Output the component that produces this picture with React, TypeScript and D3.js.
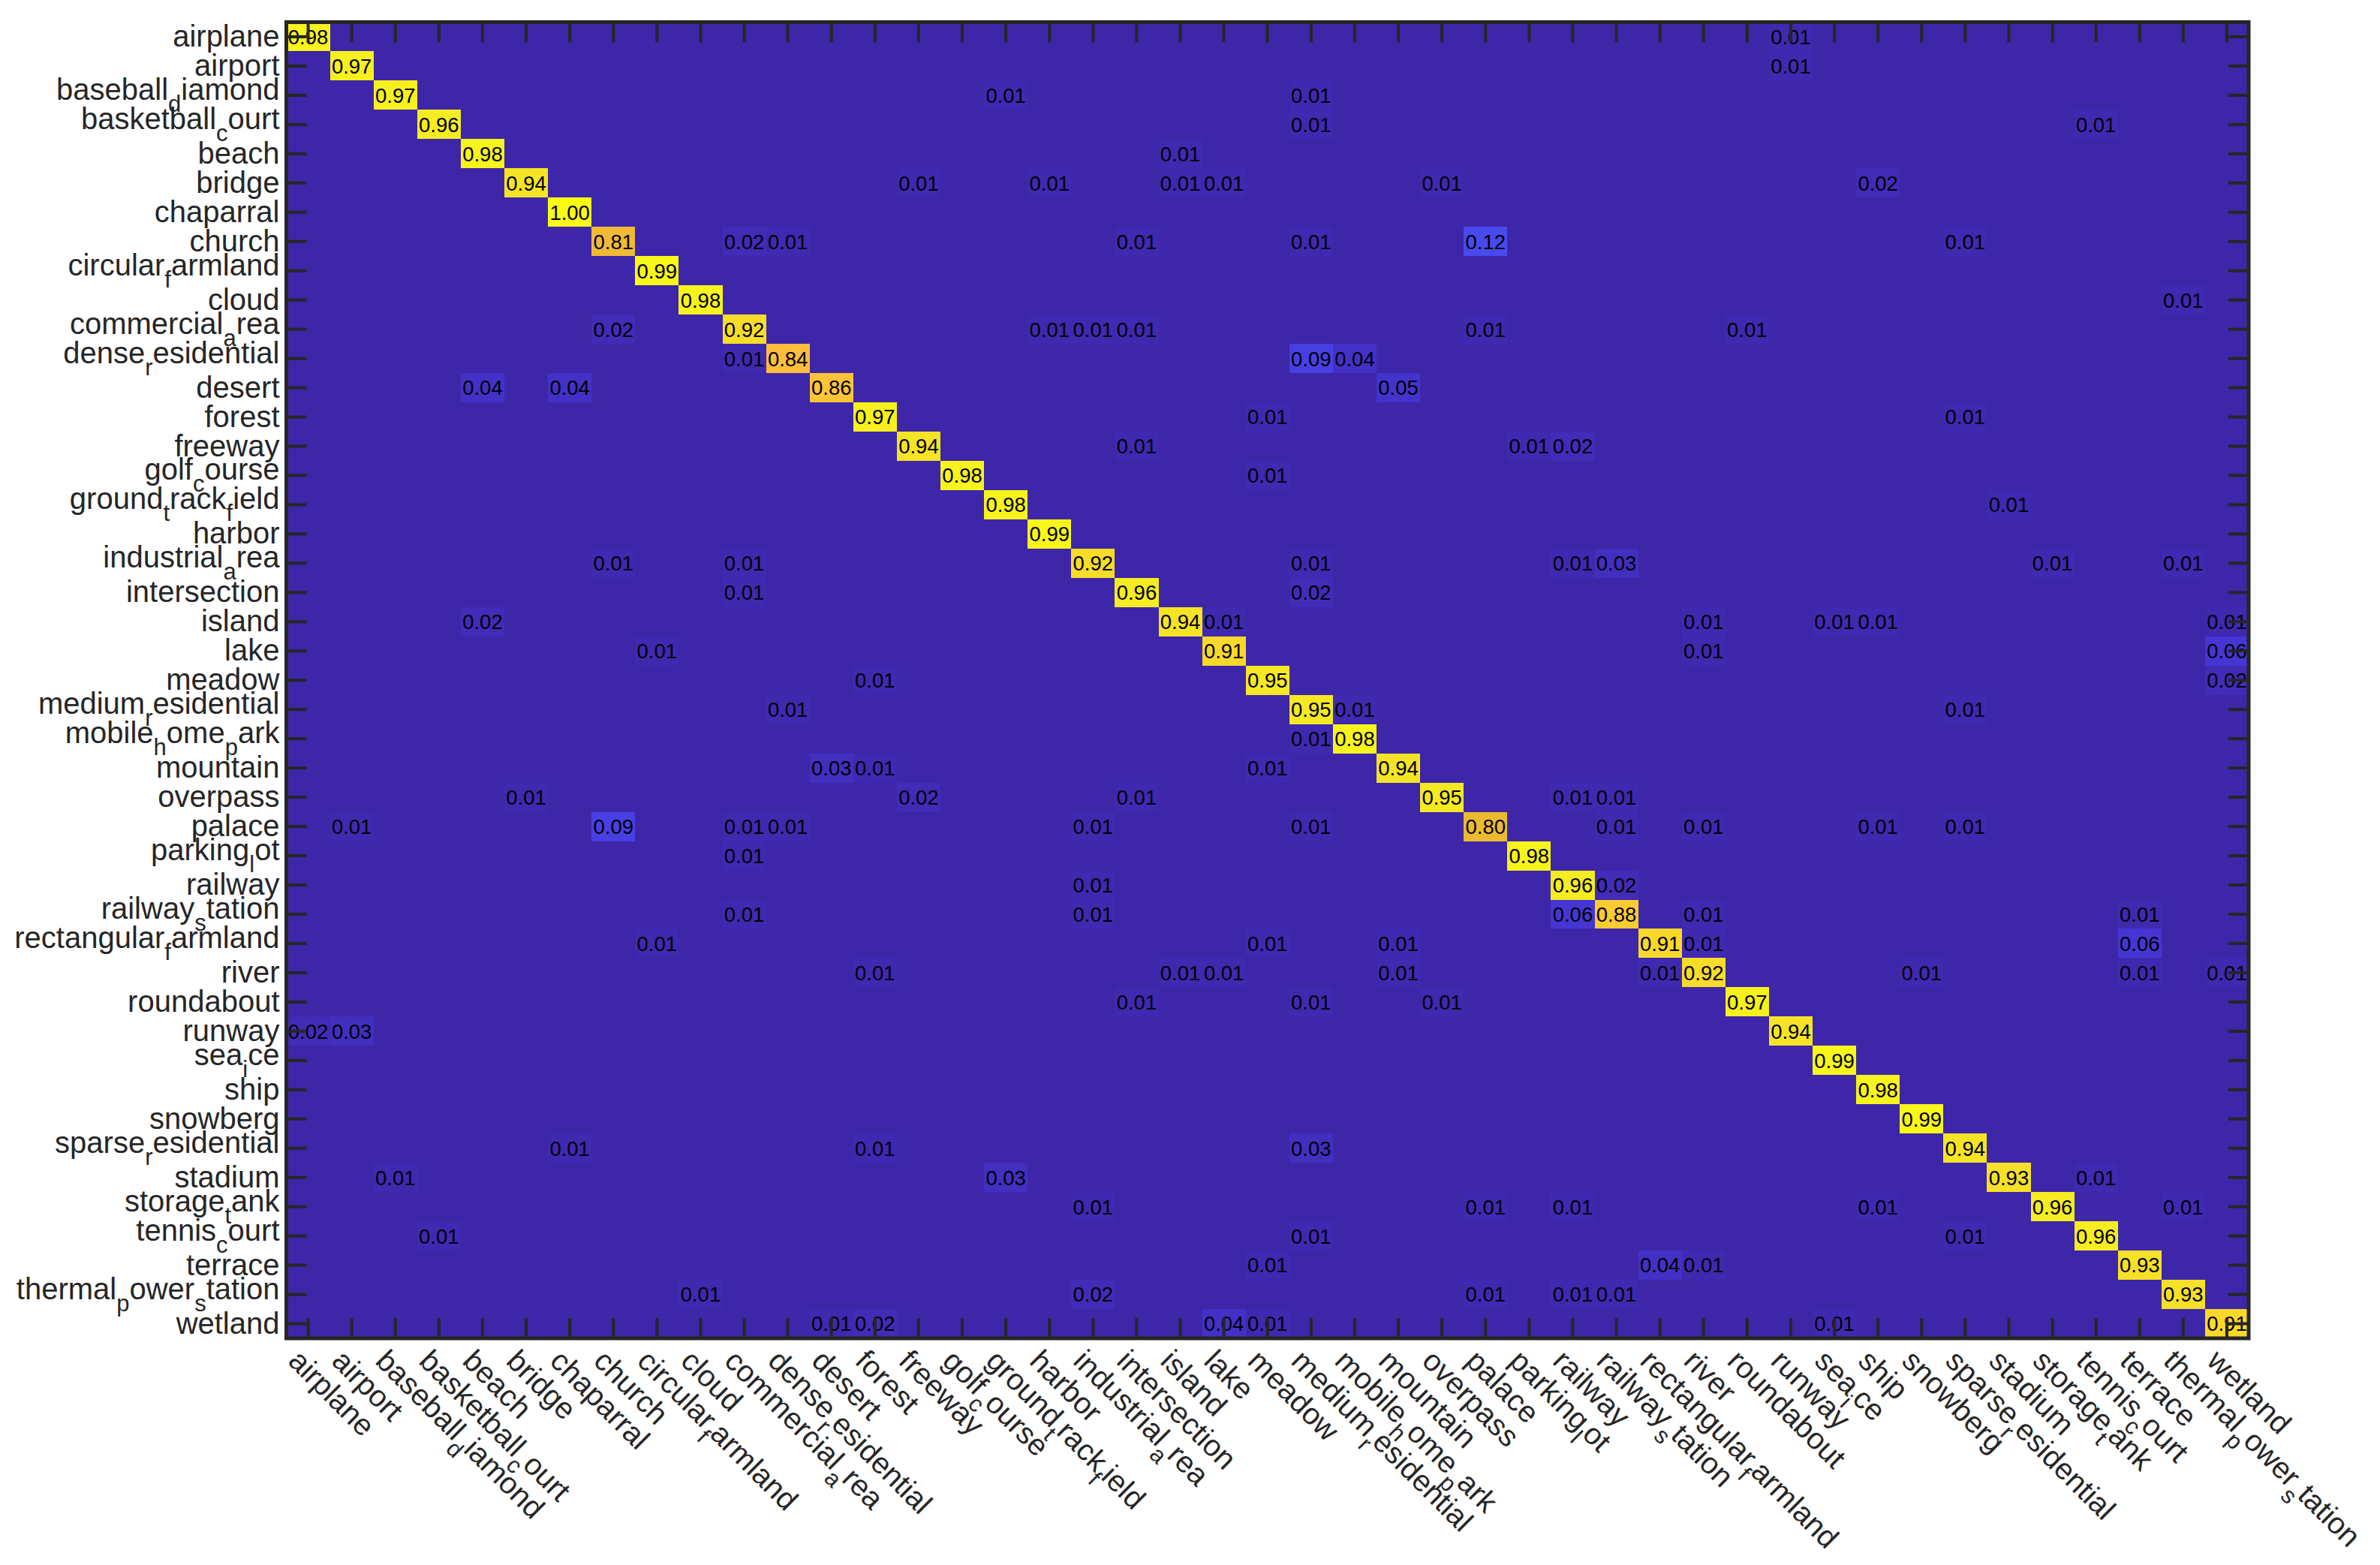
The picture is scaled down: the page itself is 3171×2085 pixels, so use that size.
import React, { useEffect, useRef } from 'react';
import * as d3 from 'd3';

// class names (underscore -> next char rendered as subscript, like MATLAB TeX)
const classes = [
  'airplane', 'airport', 'baseball_diamond', 'basketball_court', 'beach', 'bridge',
  'chaparral', 'church', 'circular_farmland', 'cloud', 'commercial_area',
  'dense_residential', 'desert', 'forest', 'freeway', 'golf_course',
  'ground_track_field', 'harbor', 'industrial_area', 'intersection', 'island', 'lake',
  'meadow', 'medium_residential', 'mobile_home_park', 'mountain', 'overpass', 'palace',
  'parking_lot', 'railway', 'railway_station', 'rectangular_farmland', 'river',
  'roundabout', 'runway', 'sea_ice', 'ship', 'snowberg', 'sparse_residential',
  'stadium', 'storage_tank', 'tennis_court', 'terrace', 'thermal_power_station', 'wetland',
];

// per-class accuracy (diagonal)
const diagonal = [
  0.98, 0.97, 0.97, 0.96, 0.98, 0.94, 1.0, 0.81, 0.99, 0.98, 0.92, 0.84, 0.86, 0.97, 0.94,
  0.98, 0.98, 0.99, 0.92, 0.96, 0.94, 0.91, 0.95, 0.95, 0.98, 0.94, 0.95, 0.8, 0.98, 0.96,
  0.88, 0.91, 0.92, 0.97, 0.94, 0.99, 0.98, 0.99, 0.94, 0.93, 0.96, 0.96, 0.93, 0.93, 0.91,
];

// off-diagonal confusions: [true row, predicted col, value]
const confusions: [number, number, number][] = [
  [0, 34, 0.01],
  [1, 34, 0.01],
  [2, 16, 0.01], [2, 23, 0.01],
  [3, 23, 0.01], [3, 41, 0.01],
  [4, 20, 0.01],
  [5, 14, 0.01], [5, 17, 0.01], [5, 20, 0.01], [5, 21, 0.01], [5, 26, 0.01], [5, 36, 0.02],
  [7, 10, 0.02], [7, 11, 0.01], [7, 19, 0.01], [7, 23, 0.01], [7, 27, 0.12], [7, 38, 0.01],
  [9, 43, 0.01],
  [10, 7, 0.02], [10, 17, 0.01], [10, 18, 0.01], [10, 19, 0.01], [10, 27, 0.01], [10, 33, 0.01],
  [11, 10, 0.01], [11, 23, 0.09], [11, 24, 0.04],
  [12, 4, 0.04], [12, 6, 0.04], [12, 25, 0.05],
  [13, 22, 0.01], [13, 38, 0.01],
  [14, 19, 0.01], [14, 28, 0.01], [14, 29, 0.02],
  [15, 22, 0.01],
  [16, 39, 0.01],
  [18, 7, 0.01], [18, 10, 0.01], [18, 23, 0.01], [18, 29, 0.01], [18, 30, 0.03], [18, 40, 0.01], [18, 43, 0.01],
  [19, 10, 0.01], [19, 23, 0.02],
  [20, 4, 0.02], [20, 21, 0.01], [20, 32, 0.01], [20, 35, 0.01], [20, 36, 0.01], [20, 44, 0.01],
  [21, 8, 0.01], [21, 32, 0.01], [21, 44, 0.06],
  [22, 13, 0.01], [22, 44, 0.02],
  [23, 11, 0.01], [23, 24, 0.01], [23, 38, 0.01],
  [24, 23, 0.01],
  [25, 12, 0.03], [25, 13, 0.01], [25, 22, 0.01],
  [26, 5, 0.01], [26, 14, 0.02], [26, 19, 0.01], [26, 29, 0.01], [26, 30, 0.01],
  [27, 1, 0.01], [27, 7, 0.09], [27, 10, 0.01], [27, 11, 0.01], [27, 18, 0.01], [27, 23, 0.01],
  [27, 30, 0.01], [27, 32, 0.01], [27, 36, 0.01], [27, 38, 0.01],
  [28, 10, 0.01],
  [29, 18, 0.01], [29, 30, 0.02],
  [30, 10, 0.01], [30, 18, 0.01], [30, 29, 0.06], [30, 32, 0.01], [30, 42, 0.01],
  [31, 8, 0.01], [31, 22, 0.01], [31, 25, 0.01], [31, 32, 0.01], [31, 42, 0.06],
  [32, 13, 0.01], [32, 20, 0.01], [32, 21, 0.01], [32, 25, 0.01], [32, 31, 0.01], [32, 37, 0.01],
  [32, 42, 0.01], [32, 44, 0.01],
  [33, 19, 0.01], [33, 23, 0.01], [33, 26, 0.01],
  [34, 0, 0.02], [34, 1, 0.03],
  [38, 6, 0.01], [38, 13, 0.01], [38, 23, 0.03],
  [39, 2, 0.01], [39, 16, 0.03], [39, 41, 0.01],
  [40, 18, 0.01], [40, 27, 0.01], [40, 29, 0.01], [40, 36, 0.01], [40, 43, 0.01],
  [41, 3, 0.01], [41, 23, 0.01], [41, 38, 0.01],
  [42, 22, 0.01], [42, 31, 0.04], [42, 32, 0.01],
  [43, 9, 0.01], [43, 18, 0.02], [43, 27, 0.01], [43, 29, 0.01], [43, 30, 0.01],
  [44, 12, 0.01], [44, 13, 0.02], [44, 21, 0.04], [44, 22, 0.01], [44, 35, 0.01],
];

// MATLAB parula colormap (64 entries)
const parula = [
  [0.2422, 0.1504, 0.6603], [0.2504, 0.165, 0.7076], [0.2578, 0.1818, 0.7511], [0.2647, 0.1978, 0.7952],
  [0.2706, 0.2147, 0.8364], [0.2751, 0.2342, 0.871], [0.2783, 0.2559, 0.8991], [0.2803, 0.2782, 0.9221],
  [0.2813, 0.3006, 0.9409], [0.281, 0.3228, 0.9579], [0.2795, 0.3447, 0.9717], [0.276, 0.3667, 0.9829],
  [0.2699, 0.3892, 0.9906], [0.2602, 0.4123, 0.9952], [0.244, 0.4358, 0.9988], [0.2206, 0.4603, 0.9973],
  [0.1963, 0.4847, 0.9892], [0.1834, 0.5074, 0.9798], [0.1786, 0.5289, 0.9682], [0.1764, 0.5499, 0.952],
  [0.1687, 0.5703, 0.9359], [0.154, 0.5902, 0.9218], [0.146, 0.6091, 0.9079], [0.138, 0.6276, 0.8973],
  [0.1248, 0.6459, 0.8883], [0.1113, 0.6635, 0.8763], [0.0952, 0.6798, 0.8598], [0.0689, 0.6948, 0.8394],
  [0.0297, 0.7082, 0.8163], [0.0036, 0.7203, 0.7917], [0.0067, 0.7312, 0.766], [0.0433, 0.7411, 0.7394],
  [0.0964, 0.75, 0.712], [0.1408, 0.7584, 0.6842], [0.1717, 0.767, 0.6554], [0.1938, 0.7758, 0.6251],
  [0.2161, 0.7843, 0.5923], [0.247, 0.7918, 0.5567], [0.2906, 0.7973, 0.5188], [0.3406, 0.8008, 0.4789],
  [0.3909, 0.8029, 0.4354], [0.4456, 0.8024, 0.3909], [0.5044, 0.7993, 0.348], [0.5616, 0.7942, 0.3045],
  [0.6174, 0.7876, 0.2612], [0.672, 0.7793, 0.2227], [0.7242, 0.7698, 0.191], [0.7738, 0.7598, 0.1646],
  [0.8203, 0.7498, 0.1535], [0.8634, 0.7406, 0.1596], [0.9035, 0.733, 0.1774], [0.9393, 0.7288, 0.21],
  [0.9728, 0.7298, 0.2394], [0.9956, 0.7434, 0.2371], [0.997, 0.7659, 0.2199], [0.9952, 0.7893, 0.2028],
  [0.9892, 0.8136, 0.1885], [0.9786, 0.8386, 0.1766], [0.9676, 0.8639, 0.1643], [0.961, 0.889, 0.1537],
  [0.9597, 0.9135, 0.1423], [0.9628, 0.9373, 0.1265], [0.9691, 0.9606, 0.1064], [0.9769, 0.9839, 0.0805],
];

const W = 3171;
const H = 2085;
const FONT = '"Liberation Sans", Arial, Helvetica, sans-serif';
const AXIS = '#262626';

const App = () => {
  const ref = useRef<SVGSVGElement>(null);

  useEffect(() => {
    const svg = d3.select(ref.current);
    svg.selectAll('*').remove();

    const margin = { top: 29.5, right: W - 2996, bottom: H - 1783, left: 381.5 };
    const n = classes.length;

    const matrix = classes.map((_, i) => classes.map((__, j) => (i === j ? diagonal[i] : 0)));
    confusions.forEach(([r, c, v]) => { matrix[r][c] = v; });
    const cells = matrix.flatMap((row, i) => row.map((v, j) => ({ i, j, v })));

    const x = d3.scaleBand<number>().domain(d3.range(n)).range([margin.left, W - margin.right]);
    const y = d3.scaleBand<number>().domain(d3.range(n)).range([margin.top, H - margin.bottom]);

    const vmax = d3.max(cells, d => d.v) as number;
    const color = d3.scaleLinear<string>()
      .domain(parula.map((_, k) => (k / (parula.length - 1)) * vmax))
      .range(parula.map(c => d3.rgb(c[0] * 255, c[1] * 255, c[2] * 255).toString()))
      .clamp(true);

    const x0 = margin.left, x1 = W - margin.right, y0 = margin.top, y1 = H - margin.bottom;

    // zero-valued background, then the non-zero cells on top
    svg.append('rect')
      .attr('x', x0).attr('y', y0)
      .attr('width', x1 - x0).attr('height', y1 - y0)
      .attr('fill', color(0));

    const nz = cells.filter(d => d.v > 0);
    svg.append('g')
      .attr('shape-rendering', 'crispEdges')
      .selectAll('rect')
      .data(nz)
      .join('rect')
      .attr('x', d => x(d.j)!)
      .attr('y', d => y(d.i)!)
      .attr('width', x.bandwidth())
      .attr('height', y.bandwidth())
      .attr('fill', d => color(d.v));

    // value labels for non-zero cells
    svg.append('g')
      .selectAll('text')
      .data(nz)
      .join('text')
      .attr('x', d => x(d.j)! + x.bandwidth() / 2)
      .attr('y', d => y(d.i)! + y.bandwidth() / 2)
      .attr('dy', '0.36em')
      .attr('text-anchor', 'middle')
      .attr('font-family', FONT)
      .attr('font-size', 27.5)
      .attr('fill', '#000')
      .text(d => d3.format('.2f')(d.v));

    const SUB_SIZE = 31;
    const SUB_SHIFT = 16;
    const writeLabel = (t: any, name: string) => {
      const parts = name.split('_');
      t.append('tspan').text(parts[0]);
      parts.slice(1).forEach(p => {
        t.append('tspan').attr('font-size', SUB_SIZE).attr('dy', SUB_SHIFT).text(p[0]);
        t.append('tspan').attr('dy', -SUB_SHIFT).text(p.slice(1));
      });
    };

    // y tick labels
    const yl = svg.append('g')
      .attr('font-family', FONT)
      .attr('font-size', 40)
      .attr('fill', AXIS);
    classes.forEach((name, i) => {
      const t = yl.append('text')
        .attr('x', margin.left - 9)
        .attr('y', y(i)! + y.bandwidth() / 2 + (name.includes('_') ? 6 : 13))
        .attr('text-anchor', 'end');
      writeLabel(t, name);
    });

    // x tick labels, rotated
    const xl = svg.append('g')
      .attr('font-family', FONT)
      .attr('font-size', 40)
      .attr('fill', AXIS);
    classes.forEach((name, j) => {
      const t = xl.append('text')
        .attr('transform', `translate(${x(j)! + x.bandwidth() / 2 - 8},${H - margin.bottom + 12}) rotate(45)`)
        .attr('dy', '0.72em')
        .attr('text-anchor', 'start');
      writeLabel(t, name);
    });

    // ticks and box on top
    const TICK = 27;
    const ax = svg.append('g').attr('stroke', AXIS).attr('stroke-width', 4).attr('fill', 'none');
    d3.range(n).forEach(k => {
      const cx = x(k)! + x.bandwidth() / 2;
      const cy = y(k)! + y.bandwidth() / 2;
      ax.append('line').attr('x1', cx).attr('x2', cx).attr('y1', y1).attr('y2', y1 - TICK);
      ax.append('line').attr('x1', cx).attr('x2', cx).attr('y1', y0).attr('y2', y0 + TICK);
      ax.append('line').attr('x1', x0).attr('x2', x0 + TICK).attr('y1', cy).attr('y2', cy);
      ax.append('line').attr('x1', x1).attr('x2', x1 - TICK).attr('y1', cy).attr('y2', cy);
    });
    ax.append('rect')
      .attr('x', x0).attr('y', y0)
      .attr('width', x1 - x0).attr('height', y1 - y0)
      .attr('stroke-width', 5);
  }, []);

  return (
    <svg
      ref={ref}
      width={W}
      height={H}
      style={{ position: 'absolute', left: 0, top: 0, background: '#fff', display: 'block' }}
    />
  );
};

export default App;
